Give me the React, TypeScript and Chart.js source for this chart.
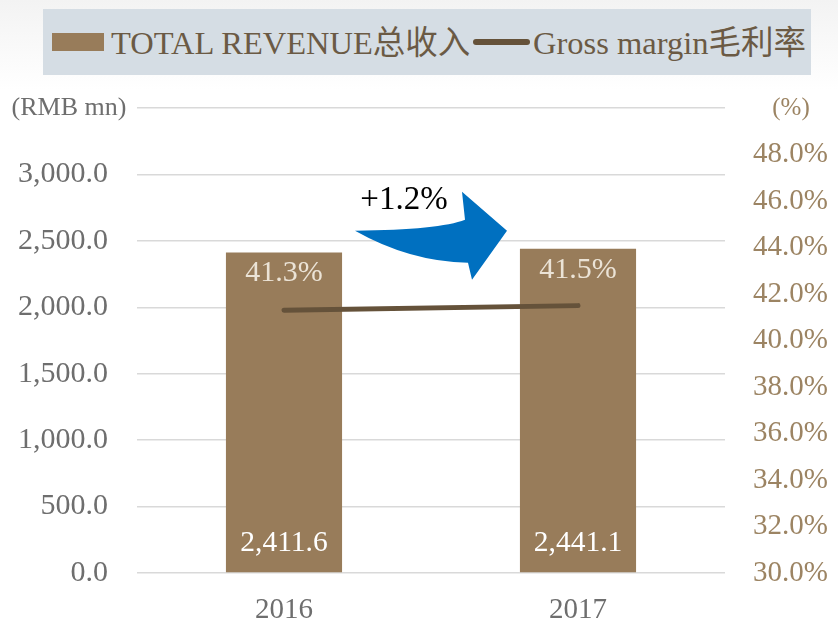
import React, { useEffect, useRef } from 'react';
import { Chart, registerables } from 'chart.js';

Chart.register(...registerables);

const categories = ['2016', '2017'];
const revenue = [2411.6, 2441.1];
const grossMargin = [41.3, 41.5];
const revenueAxis = { min: 0, max: 3500, step: 500 };
const marginAxis = { min: 30, max: 50, step: 2 };
const growthLabel = '+1.2%';
const legendRevenue = 'TOTAL REVENUE总收入';
const legendMargin = 'Gross margin毛利率';
const unitLeft = '(RMB mn)';
const unitRight = '(%)';

const SERIF = '"Liberation Serif", "Noto Sans CJK SC", serif';
const BAR = '#987c5a';
const LINE = '#65523a';
const TAN = '#9c8463';
const GRAY = '#6e6e6e';

const fmt1 = (v: number) =>
  v.toLocaleString('en-US', { minimumFractionDigits: 1, maximumFractionDigits: 1 });

const overlayPlugin = {
  id: 'overlay',
  afterDatasetsDraw(chart: any) {
    const ctx = chart.ctx;
    const yL = chart.scales.y;
    const yR = chart.scales.y1;
    const bars = chart.getDatasetMeta(0).data;
    ctx.save();
    ctx.textAlign = 'center';
    ctx.textBaseline = 'middle';
    bars.forEach((bar: any, i: number) => {
      ctx.font = `30px ${SERIF}`;
      ctx.fillStyle = '#ebe3d6';
      ctx.fillText(grossMargin[i].toFixed(1) + '%', bar.x, bar.y + 21);
      ctx.font = `29.5px ${SERIF}`;
      ctx.fillStyle = '#ffffff';
      ctx.fillText(fmt1(revenue[i]), bar.x, yL.getPixelForValue(0) - 30);
    });

    // growth arrow
    if (bars.length >= 2) {
      const mx = (bars[0].x + bars[1].x) / 2;
      const by = bars[1].y;
      const P = (dx: number, dy: number) => [mx + dx, by + dy] as [number, number];
      ctx.beginPath();
      ctx.moveTo(...P(-76, -18));
      ctx.quadraticCurveTo(...P(9, -19), ...P(34, -29));
      ctx.lineTo(...P(31, -57));
      ctx.lineTo(...P(76, -18));
      ctx.lineTo(...P(41, 31));
      ctx.lineTo(...P(37, 14));
      ctx.quadraticCurveTo(...P(-21, 13), ...P(-76, -18));
      ctx.closePath();
      ctx.fillStyle = '#0070c0';
      ctx.fill();
      ctx.font = `33px ${SERIF}`;
      ctx.fillStyle = '#000000';
      ctx.fillText(growthLabel, mx - 27, by - 48);
    }

    // unit labels
    const topY = yL.getPixelForValue(revenueAxis.max);
    ctx.font = `26px ${SERIF}`;
    ctx.fillStyle = GRAY;
    ctx.fillText(unitLeft, yL.right - 68, topY);
    ctx.font = `25px ${SERIF}`;
    ctx.fillStyle = TAN;
    ctx.fillText(unitRight, yR.left + 66, yR.getPixelForValue(marginAxis.max));
    ctx.restore();
  },
};

export default function App() {
  const ref = useRef<HTMLCanvasElement>(null);

  useEffect(() => {
    document.body.style.margin = '0';
    const canvas = ref.current!;
    const chart = new Chart(canvas, {
      type: 'bar',
      data: {
        labels: categories,
        datasets: [
          {
            type: 'bar',
            label: legendRevenue,
            data: revenue,
            backgroundColor: BAR,
            yAxisID: 'y',
            barPercentage: 0.395,
            categoryPercentage: 1,
            order: 1,
          },
          {
            type: 'line',
            label: legendMargin,
            data: grossMargin,
            borderColor: LINE,
            borderWidth: 5,
            borderCapStyle: 'round',
            pointRadius: 0,
            yAxisID: 'y1',
            order: 0,
          } as any,
        ],
      },
      options: {
        responsive: false,
        animation: false,
        devicePixelRatio: 1,
        layout: { padding: { top: 108, left: 0, right: 0, bottom: 0 } },
        plugins: { legend: { display: false }, tooltip: { enabled: false } },
        scales: {
          x: {
            grid: { display: false },
            border: { display: false },
            ticks: { color: GRAY, font: { family: SERIF, size: 29 }, padding: 12 },
            afterFit: (s: any) => { s.height = 50; },
          },
          y: {
            position: 'left',
            min: revenueAxis.min,
            max: revenueAxis.max,
            grid: { color: '#d9d9d9', lineWidth: 1.5, drawTicks: false },
            border: { display: false },
            ticks: {
              stepSize: revenueAxis.step,
              color: GRAY,
              font: { family: SERIF, size: 30 },
              padding: 29,
              callback: (v: any) => (v === revenueAxis.max ? '' : fmt1(Number(v))),
            },
            afterFit: (s: any) => { s.width = 137; },
          },
          y1: {
            position: 'right',
            min: marginAxis.min,
            max: marginAxis.max,
            grid: { display: false, drawTicks: false },
            border: { display: false },
            ticks: {
              stepSize: marginAxis.step,
              color: TAN,
              font: { family: SERIF, size: 29 },
              padding: 28,
              callback: (v: any) => (v === marginAxis.max ? '' : Number(v).toFixed(1) + '%'),
            },
            afterFit: (s: any) => { s.width = 113; },
          },
        },
      },
      plugins: [overlayPlugin],
    });
    return () => chart.destroy();
  }, []);

  const legendFont: React.CSSProperties = {
    fontFamily: SERIF,
    fontSize: 32.5,
    color: '#6b5a44',
    whiteSpace: 'nowrap',
    lineHeight: '33px',
  };

  return (
    <div style={{ position: 'relative', width: 838, height: 623, background: '#ffffff', overflow: 'hidden' }}>
      <div
        style={{
          position: 'absolute', left: 0, top: 0, width: 838, height: 90,
          background: 'linear-gradient(#f3f3f3, #ffffff)',
        }}
      />
      <canvas ref={ref} width={838} height={623} style={{ position: 'absolute', left: 0, top: 0 }} />
      <div
        style={{
          position: 'absolute', left: 43, top: 9, width: 768, height: 66,
          background: '#d5dde4',
        }}
      >
        <div style={{ position: 'absolute', left: 9, top: 24, width: 52, height: 18, background: BAR }} />
        <div style={{ ...legendFont, position: 'absolute', left: 68, top: 18 }}>{legendRevenue}</div>
        <div style={{ position: 'absolute', left: 430, top: 30, width: 57, height: 6, borderRadius: 3, background: LINE }} />
        <div style={{ ...legendFont, position: 'absolute', left: 490, top: 18 }}>{legendMargin}</div>
      </div>
    </div>
  );
}
